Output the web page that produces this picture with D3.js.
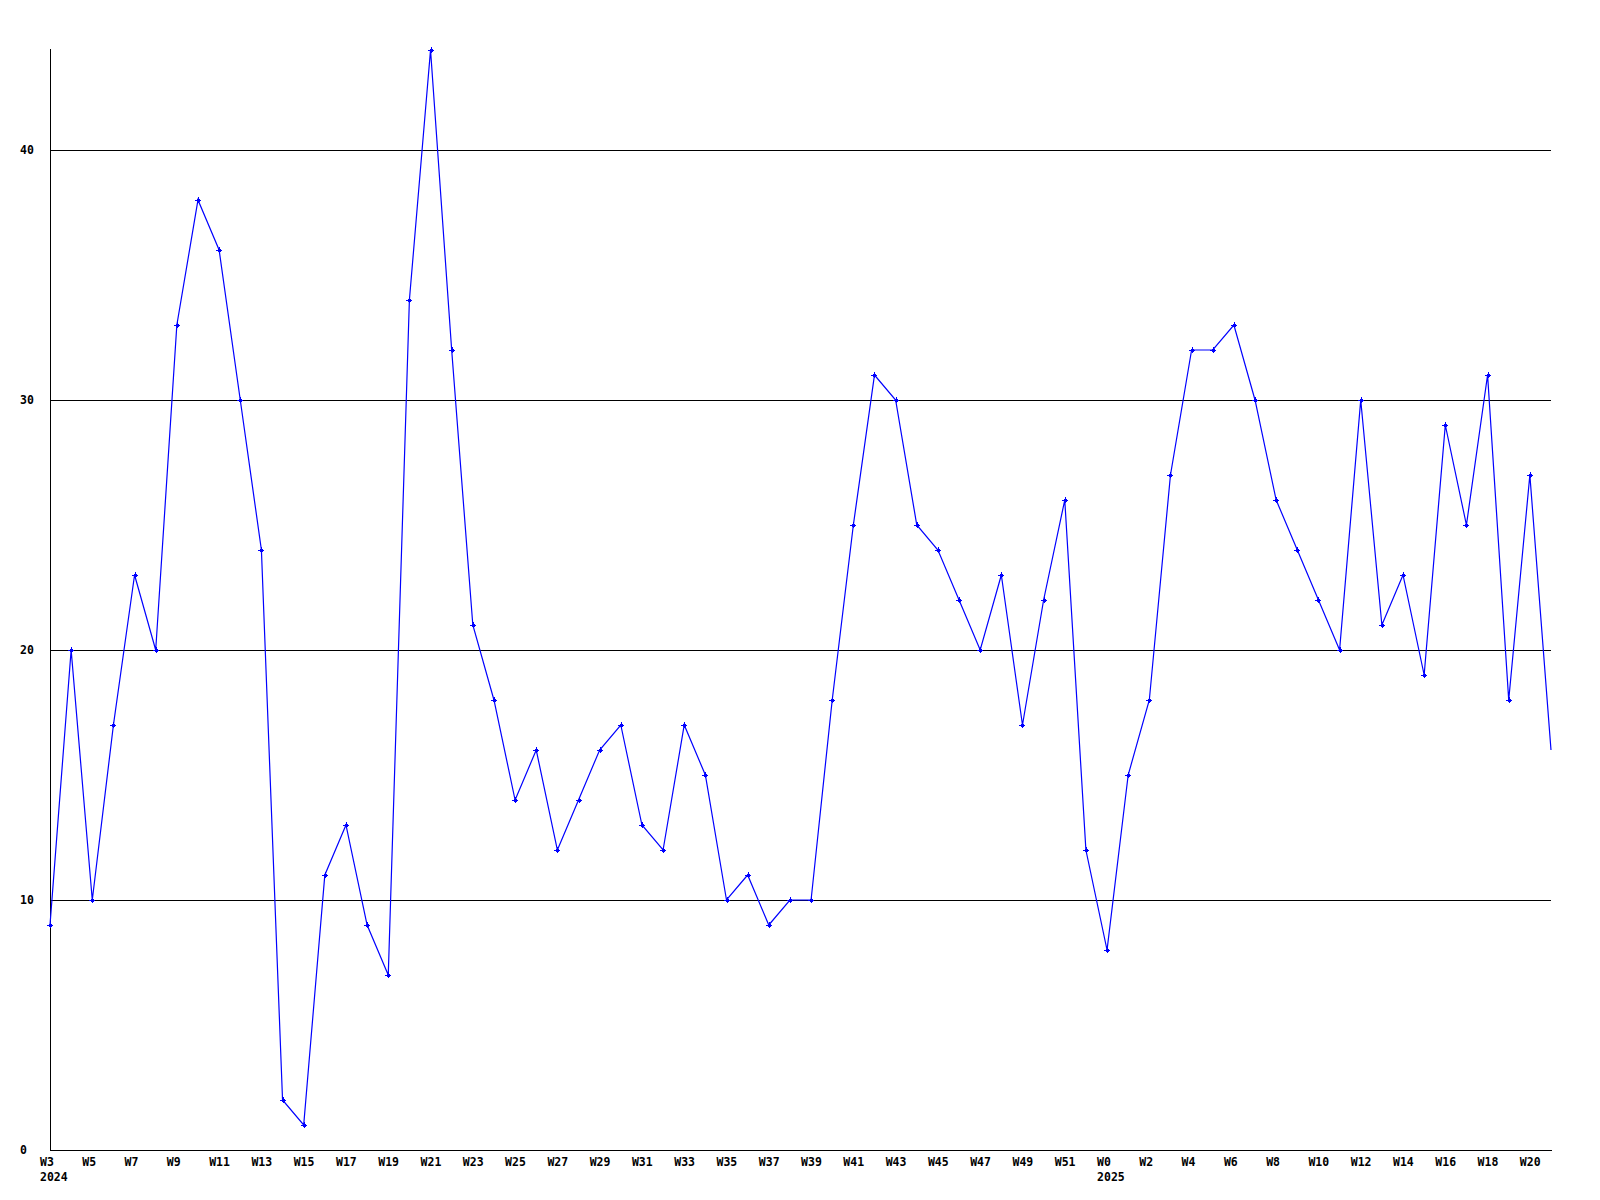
<!DOCTYPE html>
<html>
<head>
<meta charset="utf-8">
<script src="https://cdn.jsdelivr.net/npm/d3@7"></script>
<style>
  html, body { margin: 0; padding: 0; background: #fff; }
  svg { display: block; }
  text { font-family: "DejaVu Sans Mono", "Liberation Mono", monospace; font-weight: bold; font-size: 11.5px; fill: #000; }
</style>
</head>
<body>
<svg id="chart" width="1600" height="1200"></svg>
<script>
// Week labels for each data point (2024 W3 .. 2025 W21)
const weeks = [
  "W3","W4","W5","W6","W7","W8","W9","W10","W11","W12","W13","W14","W15","W16","W17","W18","W19","W20",
  "W21","W22","W23","W24","W25","W26","W27","W28","W29","W30","W31","W32","W33","W34","W35","W36","W37",
  "W38","W39","W40","W41","W42","W43","W44","W45","W46","W47","W48","W49","W50","W51","W52",
  "W0","W1","W2","W3","W4","W5","W6","W7","W8","W9","W10","W11","W12","W13","W14","W15","W16","W17",
  "W18","W19","W20","W21"
];
const values = [
  9,20,10,17,23,20,33,38,36,30,24,2,1,11,13,9,7,34,
  44,32,21,18,14,16,12,14,16,17,13,12,17,15,10,11,9,
  10,10,18,25,31,30,25,24,22,20,23,17,22,26,12,
  8,15,18,27,32,32,33,30,26,24,22,20,30,21,23,19,29,25,
  31,18,27,16
];
// Year labels: index of point where the year is shown
const yearLabels = [{ index: 0, text: "2024" }, { index: 50, text: "2025" }];
const yTicks = [0, 10, 20, 30, 40];
const gridTicks = [10, 20, 30, 40];

const svg = d3.select("#chart");
const x = d3.scaleLinear().domain([0, values.length - 1]).range([50, 1551]);
const y = d3.scaleLinear().domain([0, 40]).range([1150, 150]);

// gridlines
svg.append("g").selectAll("line").data(gridTicks).join("line")
  .attr("x1", x(0)).attr("x2", x(values.length - 1))
  .attr("y1", d => Math.round(y(d)) + 0.5).attr("y2", d => Math.round(y(d)) + 0.5)
  .attr("stroke", "#000").attr("stroke-width", 1).attr("shape-rendering", "crispEdges");

// axes lines
svg.append("line")
  .attr("x1", x(0) + 0.5).attr("x2", x(0) + 0.5)
  .attr("y1", y(d3.max(values)) - 1).attr("y2", y(0) + 1)
  .attr("stroke", "#000").attr("shape-rendering", "crispEdges");
svg.append("line")
  .attr("x1", x(0)).attr("x2", x(values.length - 1) + 1)
  .attr("y1", y(0) + 0.5).attr("y2", y(0) + 0.5)
  .attr("stroke", "#000").attr("shape-rendering", "crispEdges");

// y labels
svg.append("g").selectAll("text").data(yTicks).join("text")
  .attr("x", 20).attr("y", d => y(d) + 4)
  .text(d => d);

// x labels (every other week)
svg.append("g").selectAll("text").data(weeks.map((w, i) => ({ w, i })).filter(d => d.i % 2 === 0)).join("text")
  .attr("x", d => x(d.i) - 10).attr("y", 1166)
  .text(d => d.w);

svg.append("g").selectAll("text").data(yearLabels).join("text")
  .attr("x", d => x(d.index) - 10).attr("y", 1181)
  .text(d => d.text);

// line
const line = d3.line().x((d, i) => x(i)).y(d => y(d));
svg.append("path").datum(values)
  .attr("d", line)
  .attr("fill", "none").attr("stroke", "#0000ff").attr("stroke-width", 1.2);

// markers (not on last point)
const marker = "M-0.5,-2.5h1v1h1v1h1v1h-1v1h-1v1h-1v-1h-1v-1h-1v-1h1v-1h1z";
svg.append("g").selectAll("path").data(values.slice(0, values.length - 1)).join("path")
  .attr("transform", (d, i) => `translate(${Math.round(x(i))},${Math.round(y(d))})`)
  .attr("d", "M-1.5,-1.5h3v3h-3z M-0.5,-3h1v6h-1z M-3,-0.5h6v1h-6z")
  .attr("fill", "#0000ff").attr("shape-rendering", "crispEdges");
</script>
</body>
</html>
